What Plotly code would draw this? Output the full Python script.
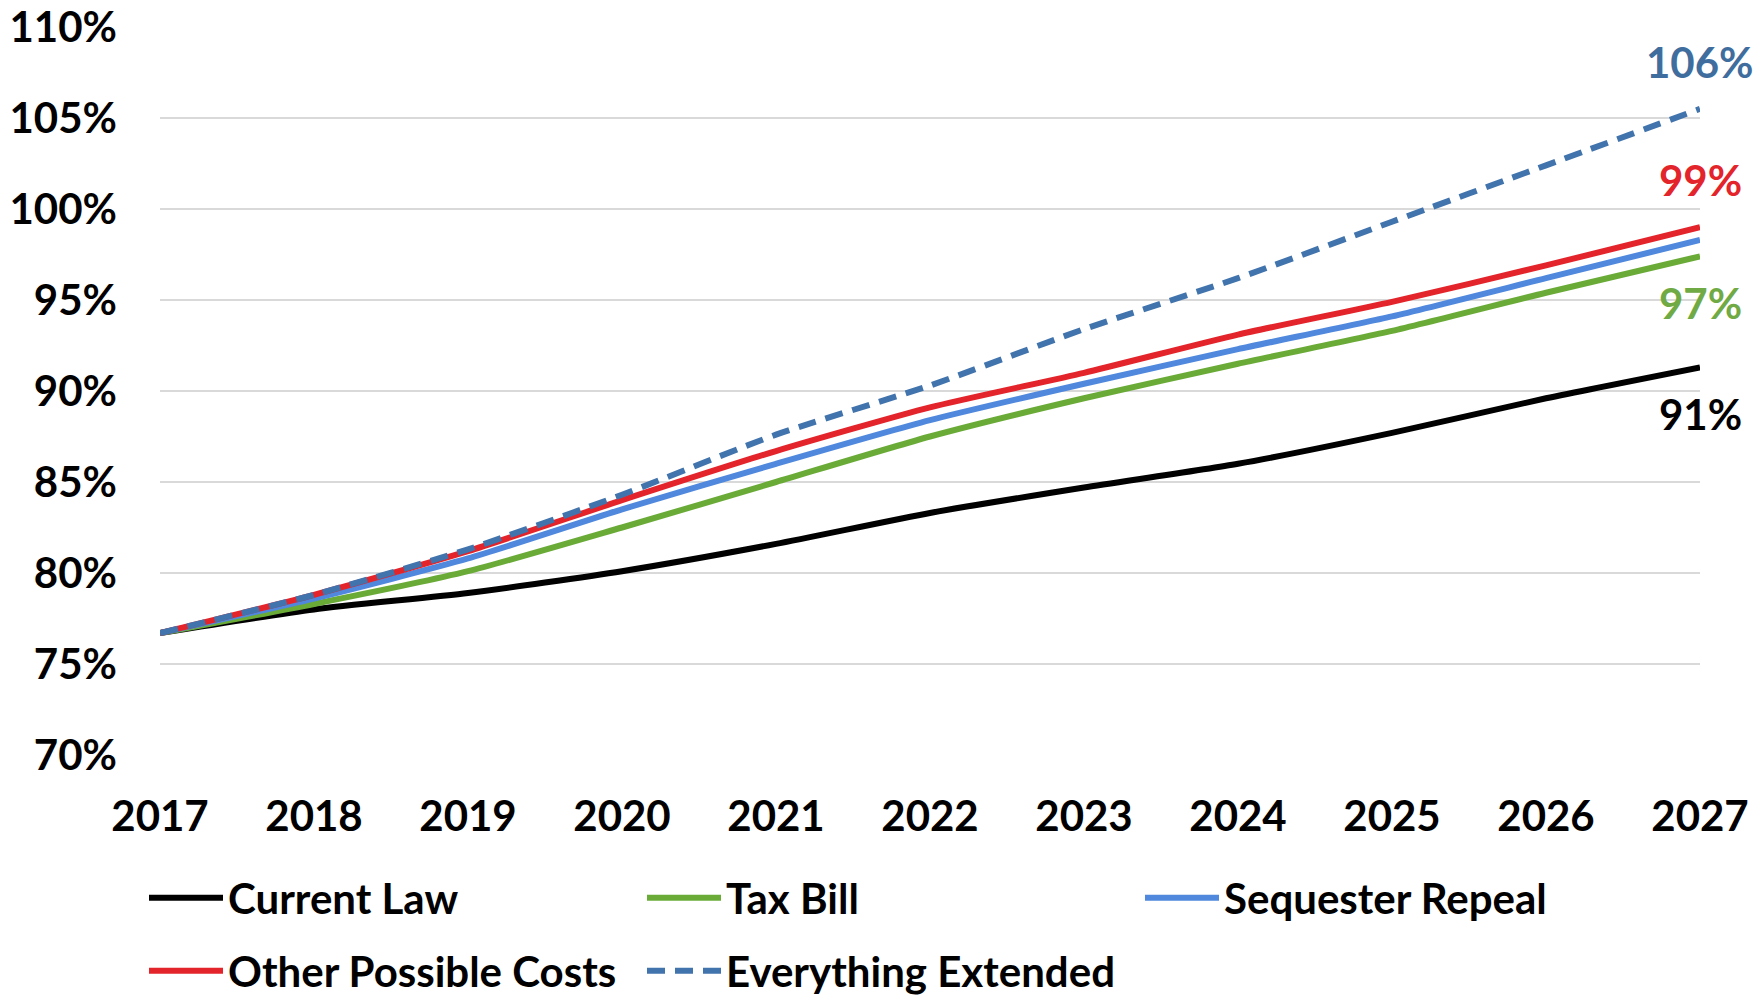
import plotly.graph_objects as go

# Debt held by the public, % of GDP
years = [2017, 2018, 2019, 2020, 2021, 2022, 2023, 2024, 2025, 2026, 2027]
current_law = [76.7, 78.0, 78.9, 80.1, 81.6, 83.3, 84.7, 86.0, 87.7, 89.6, 91.3]
tax_bill = [76.7, 78.3, 80.1, 82.5, 85.0, 87.5, 89.6, 91.5, 93.3, 95.4, 97.4]
sequester_repeal = [76.7, 78.6, 80.8, 83.5, 86.0, 88.4, 90.4, 92.3, 94.1, 96.2, 98.3]
other_costs = [76.7, 78.8, 81.2, 84.0, 86.7, 89.1, 91.0, 93.1, 94.9, 96.9, 99.0]
everything_extended = [76.7, 78.8, 81.3, 84.3, 87.6, 90.3, 93.4, 96.2, 99.3, 102.4, 105.5]

y_ticks = [70, 75, 80, 85, 90, 95, 100, 105, 110]

FONT = "Lato, 'Liberation Sans', sans-serif"
FS = 42

series = [
    ("Current Law", current_law, "#000000", "solid", "legend", -1),
    ("Tax Bill", tax_bill, "#6AAB38", "solid", "legend", -1),
    ("Sequester Repeal", sequester_repeal, "#4F88DD", "solid", "legend", 0),
    ("Other Possible Costs", other_costs, "#E3242B", "solid", "legend2", 1),
    ("Everything Extended", everything_extended, "#4173AC", "18px,10px", "legend2", 1),
]

label_colors = {
    "Current Law": "#000000",
    "Tax Bill": "#6FAA44",
    "Other Possible Costs": "#E3242B",
    "Everything Extended": "#3F6E9E",
}

fig = go.Figure()
for name, vals, color, dash, leg, _ in series:
    fig.add_trace(go.Scatter(
        x=years, y=vals, name=name, mode="lines",
        line=dict(color=color, width=6, dash=dash, shape="spline", smoothing=0.6),
        legend=leg,
    ))

# End-of-period value labels
for name, vals, color, dash, leg, side in series:
    if side == 0:
        continue
    fig.add_annotation(
        x=years[-1], y=vals[-1], text=f"{round(vals[-1])}%",
        showarrow=False, xanchor="center", yanchor="middle",
        yshift=47 if side > 0 else -47,
        font=dict(family=FONT, size=FS, color=label_colors[name], weight=700),
    )

legend_common = dict(
    orientation="h", xref="container", yref="container",
    xanchor="left", yanchor="middle",
    font=dict(family=FONT, size=FS, color="#000000", weight=700),
    entrywidth=409, entrywidthmode="pixels",
    bgcolor="rgba(0,0,0,0)", itemwidth=74,
)

fig.update_layout(
    width=1758, height=995,
    margin=dict(l=160, r=58, t=27, b=240, autoexpand=False),
    paper_bgcolor="white", plot_bgcolor="white",
    showlegend=True,
    legend=dict(x=144 / 1758, y=1 - 898 / 995, **legend_common),
    legend2=dict(x=144 / 1758, y=1 - 971 / 995, **legend_common),
    xaxis=dict(
        range=[2017, 2027], tickvals=years, ticktext=[str(y) for y in years],
        showgrid=False, zeroline=False, showline=False, ticks="",
        tickfont=dict(family=FONT, size=FS, color="#000000", weight=700),
        ticklabelstandoff=33, automargin=False,
    ),
    yaxis=dict(
        range=[70, 110], tickvals=y_ticks, ticktext=[f"{v}%" for v in y_ticks],
        showgrid=True, gridcolor="#D9D9D9", gridwidth=1.5,
        zeroline=False, showline=False, ticks="",
        tickfont=dict(family=FONT, size=FS, color="#000000", weight=700),
        ticklabelstandoff=42, automargin=False,
    ),
)

fig.write_html("out.html")
